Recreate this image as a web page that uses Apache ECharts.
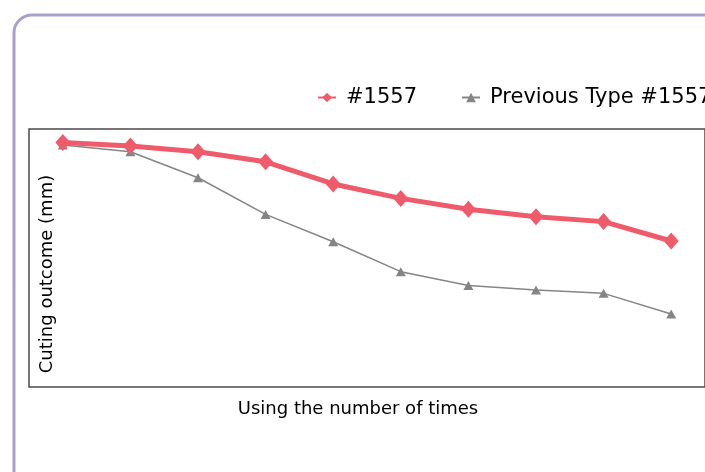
<!DOCTYPE html>
<html>
<head>
<meta charset="utf-8">
<script src="https://cdn.jsdelivr.net/npm/echarts@6/dist/echarts.min.js"></script>
<style>
html,body{margin:0;padding:0;background:#fff;}
#chart{width:705px;height:472px;}
</style>
</head>
<body>
<div id="chart"></div>
<script>
var categories = ['1','2','3','4','5','6','7','8','9','10'];
var series1557 = [94.8, 93.4, 91.2, 87.3, 78.7, 73.1, 68.9, 66.0, 64.1, 56.6];
var seriesPrevious = [93.8, 91.2, 81.1, 66.9, 56.3, 44.7, 39.3, 37.6, 36.3, 28.3];
var seriesNames = ['#1557', 'Previous Type #1557'];
var xTitle = 'Using the number of times';
var yTitle = 'Cuting outcome (mm)';

var chart = echarts.init(document.getElementById('chart'), null, {renderer:'canvas'});
var font = 'DejaVu Sans';
chart.setOption({
  backgroundColor: '#ffffff',
  animation: false,
  graphic: [{
    type: 'rect',
    z: -10,
    shape: {x: 14, y: 15, width: 760, height: 520, r: 18},
    style: {fill: 'none', stroke: '#aa9fca', lineWidth: 3}
  }],
  legend: {
    left: 312,
    top: 82,
    width: 600,
    itemWidth: 18,
    itemHeight: 12,
    itemGap: 44,
    textStyle: {fontFamily: font, fontSize: 21, color: '#000', padding: [0,0,0,5]},
    data: [
      {name: seriesNames[0], lineStyle: {width: 2}},
      {name: seriesNames[1], lineStyle: {width: 2}}
    ]
  },
  grid: {
    show: true,
    left: 29, top: 129, right: -1, bottom: 85,
    borderColor: '#4a4a4a', borderWidth: 1.5,
    backgroundColor: 'transparent'
  },
  xAxis: {
    type: 'category',
    data: categories,
    boundaryGap: true,
    axisLine: {show: false},
    axisTick: {show: false},
    axisLabel: {show: false},
    name: xTitle,
    nameLocation: 'middle',
    nameGap: 13,
    nameTextStyle: {fontFamily: font, fontSize: 18, color: '#000', padding: [0, 18, 0, 0]}
  },
  yAxis: {
    type: 'value',
    min: 0, max: 100,
    axisLine: {show: false},
    axisTick: {show: false},
    axisLabel: {show: false},
    splitLine: {show: false},
    name: yTitle,
    nameLocation: 'middle',
    nameGap: -27,
    nameTextStyle: {fontFamily: font, fontSize: 18, color: '#000', padding: [0, 32, 0, 0]}
  },
  series: [
    {
      name: seriesNames[0],
      type: 'line',
      data: series1557,
      symbol: 'diamond',
      symbolSize: [15, 17],
      itemStyle: {color: '#ef5b6b'},
      lineStyle: {color: '#ef5b6b', width: 5},
      z: 3
    },
    {
      name: seriesNames[1],
      type: 'line',
      data: seriesPrevious,
      symbol: 'triangle',
      symbolSize: [10, 9],
      itemStyle: {color: '#858585'},
      lineStyle: {color: '#858585', width: 1.5},
      z: 2
    }
  ]
});
</script>
</body>
</html>
